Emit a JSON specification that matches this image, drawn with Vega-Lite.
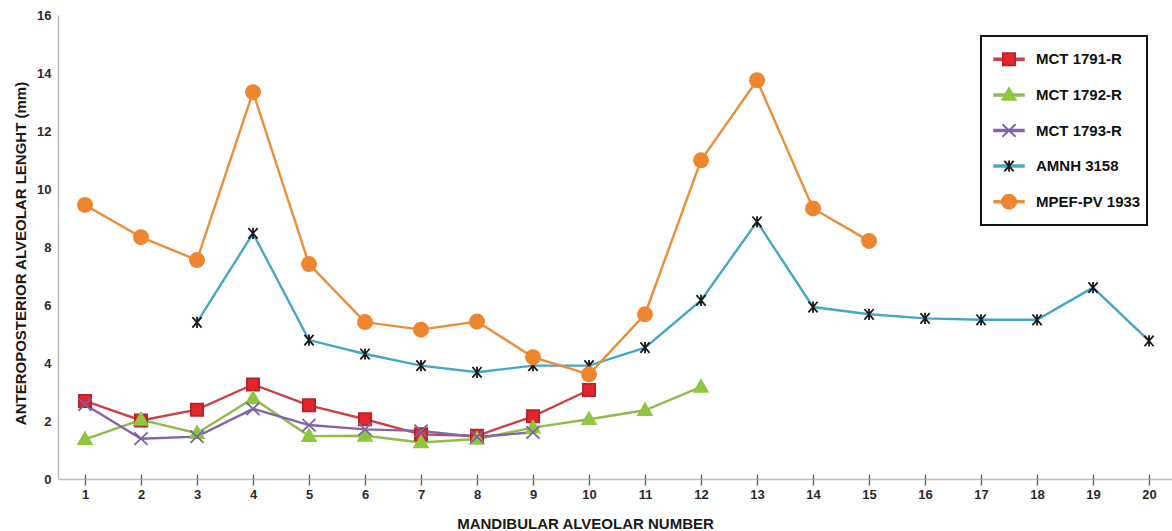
{
  "$schema": "https://vega.github.io/schema/vega-lite/v6.json",
  "autosize": "none",
  "width": 1114,
  "height": 464,
  "padding": {"left": 58, "top": 15, "right": 0, "bottom": 52},
  "background": "white",
  "config": {
    "view": {"stroke": null},
    "font": "Liberation Sans",
    "axis": {"labelFont": "Liberation Sans", "titleFont": "Liberation Sans", "grid": false}
  },
  "data": {
    "values": [
      {"s": "MCT 1791-R", "ord": 1, "n": 1, "v": 2.69},
      {"s": "MCT 1791-R", "ord": 1, "n": 2, "v": 2.02},
      {"s": "MCT 1791-R", "ord": 1, "n": 3, "v": 2.39},
      {"s": "MCT 1791-R", "ord": 1, "n": 4, "v": 3.26},
      {"s": "MCT 1791-R", "ord": 1, "n": 5, "v": 2.54},
      {"s": "MCT 1791-R", "ord": 1, "n": 6, "v": 2.06},
      {"s": "MCT 1791-R", "ord": 1, "n": 7, "v": 1.54},
      {"s": "MCT 1791-R", "ord": 1, "n": 8, "v": 1.49},
      {"s": "MCT 1791-R", "ord": 1, "n": 9, "v": 2.16},
      {"s": "MCT 1791-R", "ord": 1, "n": 10, "v": 3.07},
      {"s": "MCT 1792-R", "ord": 2, "n": 1, "v": 1.37},
      {"s": "MCT 1792-R", "ord": 2, "n": 2, "v": 2.04},
      {"s": "MCT 1792-R", "ord": 2, "n": 3, "v": 1.58},
      {"s": "MCT 1792-R", "ord": 2, "n": 4, "v": 2.78},
      {"s": "MCT 1792-R", "ord": 2, "n": 5, "v": 1.48},
      {"s": "MCT 1792-R", "ord": 2, "n": 6, "v": 1.49},
      {"s": "MCT 1792-R", "ord": 2, "n": 7, "v": 1.26},
      {"s": "MCT 1792-R", "ord": 2, "n": 8, "v": 1.38},
      {"s": "MCT 1792-R", "ord": 2, "n": 9, "v": 1.77},
      {"s": "MCT 1792-R", "ord": 2, "n": 10, "v": 2.06},
      {"s": "MCT 1792-R", "ord": 2, "n": 11, "v": 2.37},
      {"s": "MCT 1792-R", "ord": 2, "n": 12, "v": 3.18},
      {"s": "MCT 1793-R", "ord": 3, "n": 1, "v": 2.57},
      {"s": "MCT 1793-R", "ord": 3, "n": 2, "v": 1.39},
      {"s": "MCT 1793-R", "ord": 3, "n": 3, "v": 1.46},
      {"s": "MCT 1793-R", "ord": 3, "n": 4, "v": 2.42},
      {"s": "MCT 1793-R", "ord": 3, "n": 5, "v": 1.86},
      {"s": "MCT 1793-R", "ord": 3, "n": 6, "v": 1.71},
      {"s": "MCT 1793-R", "ord": 3, "n": 7, "v": 1.66},
      {"s": "MCT 1793-R", "ord": 3, "n": 8, "v": 1.45},
      {"s": "MCT 1793-R", "ord": 3, "n": 9, "v": 1.61},
      {"s": "AMNH 3158", "ord": 4, "n": 3, "v": 5.4},
      {"s": "AMNH 3158", "ord": 4, "n": 4, "v": 8.47},
      {"s": "AMNH 3158", "ord": 4, "n": 5, "v": 4.79},
      {"s": "AMNH 3158", "ord": 4, "n": 6, "v": 4.31},
      {"s": "AMNH 3158", "ord": 4, "n": 7, "v": 3.91},
      {"s": "AMNH 3158", "ord": 4, "n": 8, "v": 3.68},
      {"s": "AMNH 3158", "ord": 4, "n": 9, "v": 3.91},
      {"s": "AMNH 3158", "ord": 4, "n": 10, "v": 3.91},
      {"s": "AMNH 3158", "ord": 4, "n": 11, "v": 4.53},
      {"s": "AMNH 3158", "ord": 4, "n": 12, "v": 6.16},
      {"s": "AMNH 3158", "ord": 4, "n": 13, "v": 8.87},
      {"s": "AMNH 3158", "ord": 4, "n": 14, "v": 5.93},
      {"s": "AMNH 3158", "ord": 4, "n": 15, "v": 5.68},
      {"s": "AMNH 3158", "ord": 4, "n": 16, "v": 5.54},
      {"s": "AMNH 3158", "ord": 4, "n": 17, "v": 5.49},
      {"s": "AMNH 3158", "ord": 4, "n": 18, "v": 5.49},
      {"s": "AMNH 3158", "ord": 4, "n": 19, "v": 6.6},
      {"s": "AMNH 3158", "ord": 4, "n": 20, "v": 4.76},
      {"s": "MPEF-PV 1933", "ord": 5, "n": 1, "v": 9.45},
      {"s": "MPEF-PV 1933", "ord": 5, "n": 2, "v": 8.34},
      {"s": "MPEF-PV 1933", "ord": 5, "n": 3, "v": 7.55},
      {"s": "MPEF-PV 1933", "ord": 5, "n": 4, "v": 13.34},
      {"s": "MPEF-PV 1933", "ord": 5, "n": 5, "v": 7.41},
      {"s": "MPEF-PV 1933", "ord": 5, "n": 6, "v": 5.41},
      {"s": "MPEF-PV 1933", "ord": 5, "n": 7, "v": 5.15},
      {"s": "MPEF-PV 1933", "ord": 5, "n": 8, "v": 5.43},
      {"s": "MPEF-PV 1933", "ord": 5, "n": 9, "v": 4.2},
      {"s": "MPEF-PV 1933", "ord": 5, "n": 10, "v": 3.61},
      {"s": "MPEF-PV 1933", "ord": 5, "n": 11, "v": 5.68},
      {"s": "MPEF-PV 1933", "ord": 5, "n": 12, "v": 10.99},
      {"s": "MPEF-PV 1933", "ord": 5, "n": 13, "v": 13.75},
      {"s": "MPEF-PV 1933", "ord": 5, "n": 14, "v": 9.33},
      {"s": "MPEF-PV 1933", "ord": 5, "n": 15, "v": 8.21}
    ]
  },
  "layer": [
    {
      "mark": {"type": "line", "strokeWidth": 2.4},
      "encoding": {
        "x": {
          "field": "n", "type": "quantitative",
          "scale": {"domain": [0.518, 20.41], "nice": false, "zero": false},
          "axis": {
            "orient": "bottom",
            "values": [1,1.5,2,2.5,3,3.5,4,4.5,5,5.5,6,6.5,7,7.5,8,8.5,9,9.5,10,10.5,11,11.5,12,12.5,13,13.5,14,14.5,15,15.5,16,16.5,17,17.5,18,18.5,19,19.5,20],
            "labelExpr": "datum.value % 1 === 0 ? datum.label : ''",
            "format": "d",
            "tickSize": {"condition": {"test": "datum.value % 1 !== 0", "value": 3}, "value": 6},
            "tickColor": "#666",
            "tickWidth": 1.5,
            "domainColor": "#bdbdbd",
            "domainWidth": 1.5,
            "labelFontSize": 13,
            "labelFontWeight": "bold",
            "labelColor": "#2a2a2a",
            "labelPadding": 3,
            "labelFlush": false,
            "labelOverlap": false,
            "title": "MANDIBULAR ALVEOLAR NUMBER",
            "titleFontSize": 15,
            "titleFontWeight": "bold",
            "titleColor": "#1a1a1a",
            "titleX": 527,
            "titleY": 44,
            "titleBaseline": "middle",
            "titleAlign": "center"
          }
        },
        "y": {
          "field": "v", "type": "quantitative",
          "scale": {"domain": [0, 16], "nice": false},
          "axis": {
            "values": [0,2,4,6,8,10,12,14,16],
            "ticks": false,
            "domainColor": "#bdbdbd",
            "domainWidth": 1.5,
            "labelFontSize": 13,
            "labelFontWeight": "bold",
            "labelColor": "#2a2a2a",
            "labelPadding": 7,
            "title": "ANTEROPOSTERIOR ALVEOLAR LENGHT (mm)",
            "titleFontSize": 15,
            "titleFontWeight": "bold",
            "titleColor": "#1a1a1a",
            "titleX": -38,
            "titleY": 238,
            "titleBaseline": "middle",
            "titleAlign": "center"
          }
        },
        "color": {
          "field": "s", "type": "nominal",
          "scale": {
            "domain": ["MCT 1791-R", "MCT 1792-R", "MCT 1793-R", "AMNH 3158", "MPEF-PV 1933"],
            "range": ["#cc4148", "#8fbc4a", "#8466a8", "#45a8c2", "#e98f3a"]
          },
          "legend": {
            "orient": "none",
            "legendX": 923,
            "legendY": 21,
            "title": null,
            "direction": "vertical",
            "columns": 1,
            "padding": 5.8,
            "clipHeight": 35,
            "symbolType": "stroke",
            "symbolSize": 992.25,
            "symbolStrokeWidth": 3.5,
            "symbolOffset": 4.7,
            "labelOffset": 9.5,
            "labelFont": "Liberation Sans",
            "labelFontSize": 15,
            "labelFontWeight": "bold",
            "labelColor": "#111",
            "rowPadding": 0.6,
            "strokeColor": "#111",
            "fillColor": "white",
            "encode": {
              "legend": {"update": {"strokeWidth": {"value": 2}}},
              "symbols": {"update": {"strokeWidth": {"value": 3.5}}}
            }
          }
        }
      }
    },
    {
      "mark": {"type": "point", "filled": true, "size": 1089, "strokeWidth": 1.8, "opacity": 1},
      "encoding": {
        "x": {
          "field": "n", "type": "quantitative",
          "axis": {
            "orient": "bottom",
            "values": [1,2,3,4,5,6,7,8,9,10,11,12,13,14,15,16,17,18,19,20],
            "tickSize": -5,
            "tickColor": "#666",
            "tickWidth": 1.5,
            "labels": false,
            "domain": false,
            "title": null
          }
        },
        "y": {"field": "v", "type": "quantitative"},
        "fill": {
          "field": "s", "type": "nominal",
          "sort": {"field": "ord", "op": "min"},
          "scale": {"range": ["#e3262d", "#8dc63f", "#7b62a8", "#1a1a1a", "#ee8630"]},
          "legend": {
            "orient": "none", "legendX": 923, "legendY": 21, "title": null, "padding": 5.8,
            "direction": "vertical", "columns": 1,
            "clipHeight": 35,
            "symbolSize": 1089, "symbolStrokeWidth": 1.8, "symbolOffset": 4.7, "labelOffset": 9.5,
            "labelFont": "Liberation Sans", "labelFontSize": 15, "labelFontWeight": "bold",
            "labelExpr": "''", "rowPadding": 0.6
          }
        },
        "stroke": {
          "field": "s", "type": "nominal",
          "sort": {"field": "ord", "op": "min"},
          "scale": {"range": ["#b5242a", "#8dc63f", "#7b62a8", "#1a1a1a", "#ee8630"]},
          "legend": {
            "orient": "none", "legendX": 923, "legendY": 21, "title": null, "padding": 5.8,
            "direction": "vertical", "columns": 1,
            "clipHeight": 35,
            "symbolSize": 1089, "symbolStrokeWidth": 1.8, "symbolOffset": 4.7, "labelOffset": 9.5,
            "labelFont": "Liberation Sans", "labelFontSize": 15, "labelFontWeight": "bold",
            "labelExpr": "''", "rowPadding": 0.6
          }
        },
        "shape": {
          "field": "s", "type": "nominal",
          "sort": {"field": "ord", "op": "min"},
          "scale": {"range": [
            "M-0.37,-0.37H0.37V0.37H-0.37Z",
            "M0,-0.42L0.41,0.3H-0.41Z",
            "M-0.4,-0.38L0.4,0.38M-0.4,0.38L0.4,-0.38",
            "M-0.28,-0.32L0.28,0.32M-0.28,0.32L0.28,-0.32M0,-0.34V0.34",
            "M0.43,0A0.43,0.43,0,1,1,-0.43,0A0.43,0.43,0,1,1,0.43,0Z"
          ]},
          "legend": {
            "orient": "none", "legendX": 923, "legendY": 21, "title": null, "padding": 5.8,
            "direction": "vertical", "columns": 1,
            "clipHeight": 35,
            "symbolSize": 1089, "symbolStrokeWidth": 1.8, "symbolOffset": 4.7, "labelOffset": 9.5,
            "labelFont": "Liberation Sans", "labelFontSize": 15, "labelFontWeight": "bold",
            "labelExpr": "''", "rowPadding": 0.6
          }
        }
      }
    }
  ],
  "resolve": {"axis": {"x": "independent"}}
}
